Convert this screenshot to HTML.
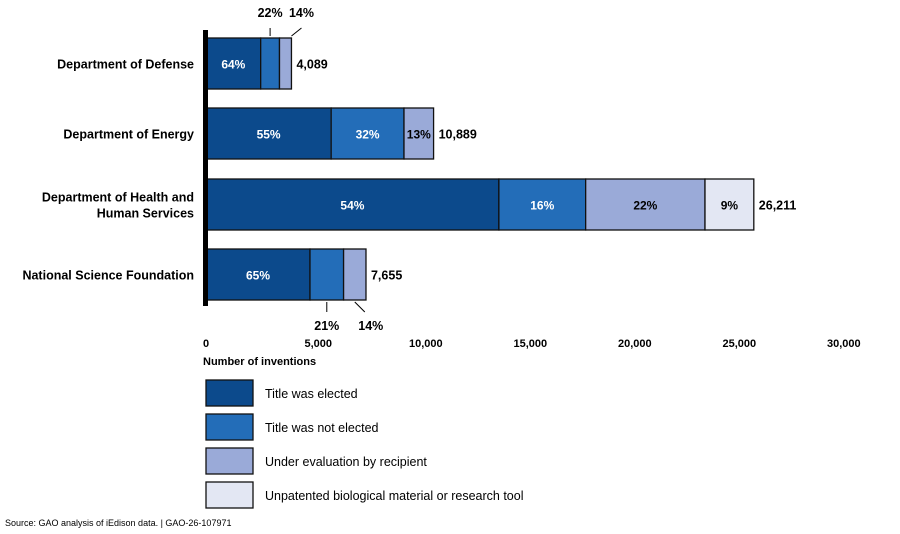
<!DOCTYPE html>
<html><head><meta charset="utf-8"><style>
body{margin:0;background:#fff;}
svg{display:block;font-family:"Liberation Sans",Arial,sans-serif;}
</style></head><body>
<svg id="chart" width="900" height="534"></svg>
<script>
const categories=["Department of Defense","Department of Energy","Department of Health and|Human Services","National Science Foundation"];
const totals=[4089,10889,26211,7655];
const elected=[64,55,54,65];
const notElected=[22,32,16,21];
const underEval=[14,13,22,14];
const unpatented=[0,0,9,0];
const tickValues=[0,5000,10000,15000,20000,25000,30000];
const tickLabels=["0","5,000","10,000","15,000","20,000","25,000","30,000"];
const legendLabels=["Title was elected","Title was not elected","Under evaluation by recipient","Unpatented biological material or research tool"];
const colors=["#0c4a8c","#236db8","#9aaad8","#e3e7f3"];
const textColors=["#fff","#fff","#000","#000"];
const outsideAbove=[true,false,false,false];
const outsideBelow=[false,false,false,true];
const NS="http://www.w3.org/2000/svg";
const svg=document.getElementById('chart');
const x0=206,scale=0.0209;
function x(v){return x0+v*scale;}
const barTops=[38,108,179,249],barH=51;
function el(t,a,txt){const e=document.createElementNS(NS,t);for(const k in a)e.setAttribute(k,a[k]);if(txt!==undefined)e.textContent=txt;svg.appendChild(e);return e;}
const series=[elected,notElected,underEval,unpatented];
categories.forEach((c,i)=>{
  const y=barTops[i];
  let cum=0;
  const pcts=series.map(s=>s[i]);const sum=pcts.reduce((a,b)=>a+b,0);
  pcts.forEach((p,j)=>{
    if(!p)return;
    const v0=totals[i]*cum/sum,v1=totals[i]*(cum+p)/sum;cum+=p;
    const r=el('rect',{x:x(v0),y:y,width:x(v1)-x(v0),height:barH,fill:colors[j],stroke:'#111','stroke-width':1.3});
    
    
    const outside=j>0&&(outsideAbove[i]||outsideBelow[i]);
    if(!outside){const t=el('text',{x:(x(v0)+x(v1))/2,y:y+barH/2+5,'text-anchor':'middle','font-size':12,'font-weight':'bold',fill:textColors[j]},p+'%');
      }
    else{
      const cx=(x(v0)+x(v1))/2;const above=outsideAbove[i];
      const dx=j===2?10:0;
      const ln=el('line',{x1:cx,y1:above?y-2:y+barH+2,x2:cx+dx,y2:above?y-10:y+barH+12,stroke:'#000','stroke-width':1});
      if(above){ln.setAttribute('x1',cx+dx*0.6);ln.setAttribute('x2',cx+dx*1.6);ln.setAttribute('y1',y-2);ln.setAttribute('y2',y-10);if(j===1){ln.setAttribute('x1',cx);ln.setAttribute('x2',cx);}}
      
      const t=el('text',{x:cx+(j===2?dx+6:0),y:above?y-21:y+barH+30,'text-anchor':'middle','font-size':12.5,'font-weight':'bold',fill:'#000'},p+'%');
      
    }
  });
  const tt=el('text',{x:x(totals[i])+5,y:y+barH/2+5,'font-size':12.5,'font-weight':'bold'},totals[i].toLocaleString('en-US'));
  
  const lines=c.split('|');
  lines.forEach((l,k)=>{const t=el('text',{x:194,y:y+barH/2+5+(k-(lines.length-1)/2)*16,'text-anchor':'end','font-size':12.5,'font-weight':'bold'},l);
    });
});
const ax=el('rect',{x:203,y:30,width:5,height:276,fill:'#000'});

tickValues.forEach((v,i)=>{const t=el('text',{x:v===0?x(v)-3:x(v)-6,y:347,'font-size':11,'font-weight':'bold'},tickLabels[i]);
  });
const xt=el('text',{x:203,y:365,'font-size':11,'font-weight':'bold'},'Number of inventions');

legendLabels.forEach((l,i)=>{const y=380+i*34;
  const r=el('rect',{x:206,y:y,width:47,height:26,fill:colors[i],stroke:'#111','stroke-width':1.3});
  
  const t=el('text',{x:265,y:y+18,'font-size':12.5},l);
  });
const s=el('text',{x:5,y:526,'font-size':9},'Source: GAO analysis of iEdison data.  |  GAO-26-107971');

</script>
</body></html>
